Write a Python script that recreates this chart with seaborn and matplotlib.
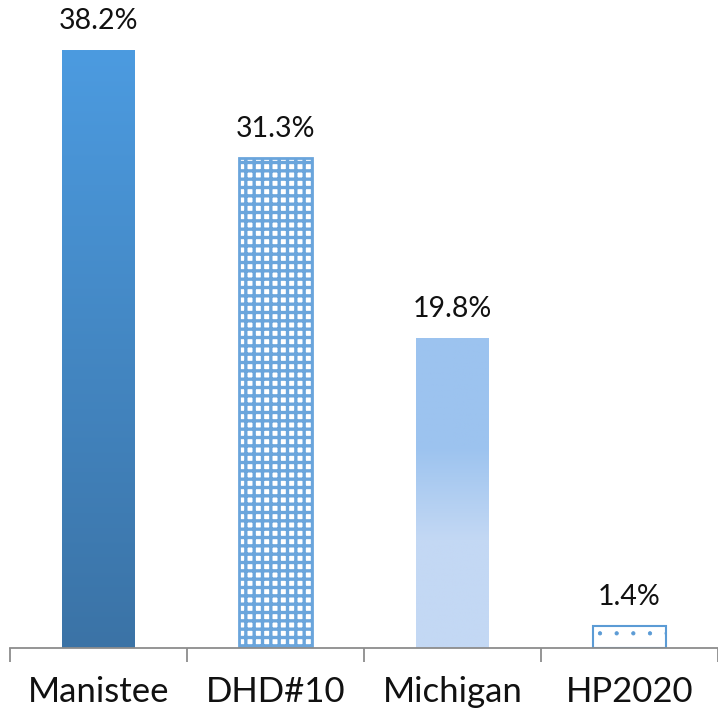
import numpy as np
import pandas as pd
import matplotlib
matplotlib.use("Agg")
import matplotlib.pyplot as plt
from matplotlib.colors import LinearSegmentedColormap
import seaborn as sns

categories = ["Manistee", "DHD#10", "Michigan", "HP2020"]
values = [38.2, 31.3, 19.8, 1.4]
value_labels = ["38.2%", "31.3%", "19.8%", "1.4%"]

df = pd.DataFrame({"area": categories, "pct": values})

sns.set_style("white")
plt.rcParams["font.family"] = ["Lato", "DejaVu Sans"]
plt.rcParams["hatch.linewidth"] = 2.4

fig = plt.figure(figsize=(7.18, 7.13), dpi=100)
ax = fig.add_axes([10 / 718, 65 / 713, 708 / 718, 648 / 713])

sns.barplot(data=df, x="area", y="pct", ax=ax, width=0.41, color="white")
ax.set_xlim(-0.5, 3.5)
ax.set_ylim(0, 41.4)

bars = ax.patches
blue_edge = "#5b9bd5"

# gradient fills for Manistee and Michigan
grads = {
    0: LinearSegmentedColormap.from_list("g0", ["#3b73a6", "#4c9be0"]),
    2: LinearSegmentedColormap.from_list("g2", [(0, "#c3d8f4"), (0.35, "#c3d8f4"),
                                                (0.65, "#9cc3ef"), (1, "#9cc3ef")]),
}
for i, cmap in grads.items():
    b = bars[i]
    b.set_facecolor("none")
    b.set_edgecolor("none")
    x0, w, h = b.get_x(), b.get_width(), b.get_height()
    grad = np.linspace(0, 1, 256).reshape(-1, 1)
    im = ax.imshow(grad, cmap=cmap, origin="lower", aspect="auto",
                   extent=[x0, x0 + w, 0, h], zorder=2)
    im.set_clip_path(b)

bars[1].set_facecolor("white")
bars[1].set_edgecolor("#6aa5dc")
bars[1].set_hatch("++")
bars[1].set_linewidth(2)

bars[3].set_facecolor("white")
bars[3].set_edgecolor(blue_edge)
bars[3].set_hatch(".")
bars[3].set_linewidth(1.5)
if hasattr(bars[3], "set_hatch_linewidth"):
    bars[3].set_hatch_linewidth(0.6)

for b, lab in zip(bars, value_labels):
    ax.text(b.get_x() + b.get_width() / 2, b.get_height() + 1.05, lab,
            ha="center", va="bottom", fontsize=20.5, color="#111111")

ax.set_xlabel("")
ax.set_ylabel("")
ax.set_yticks([])
ax.tick_params(axis="x", which="major", length=0, labelsize=25, pad=20,
               labelcolor="#111111")
ax.set_xticks(np.arange(-0.5, 4, 1), minor=True)
ax.tick_params(axis="x", which="minor", bottom=True, length=10, width=1.3,
               color="#8c8c8c", direction="out")
for s in ["top", "left", "right"]:
    ax.spines[s].set_visible(False)
ax.spines["bottom"].set_color("#8c8c8c")
ax.spines["bottom"].set_linewidth(1.3)

fig.savefig("out.png", dpi=100)
